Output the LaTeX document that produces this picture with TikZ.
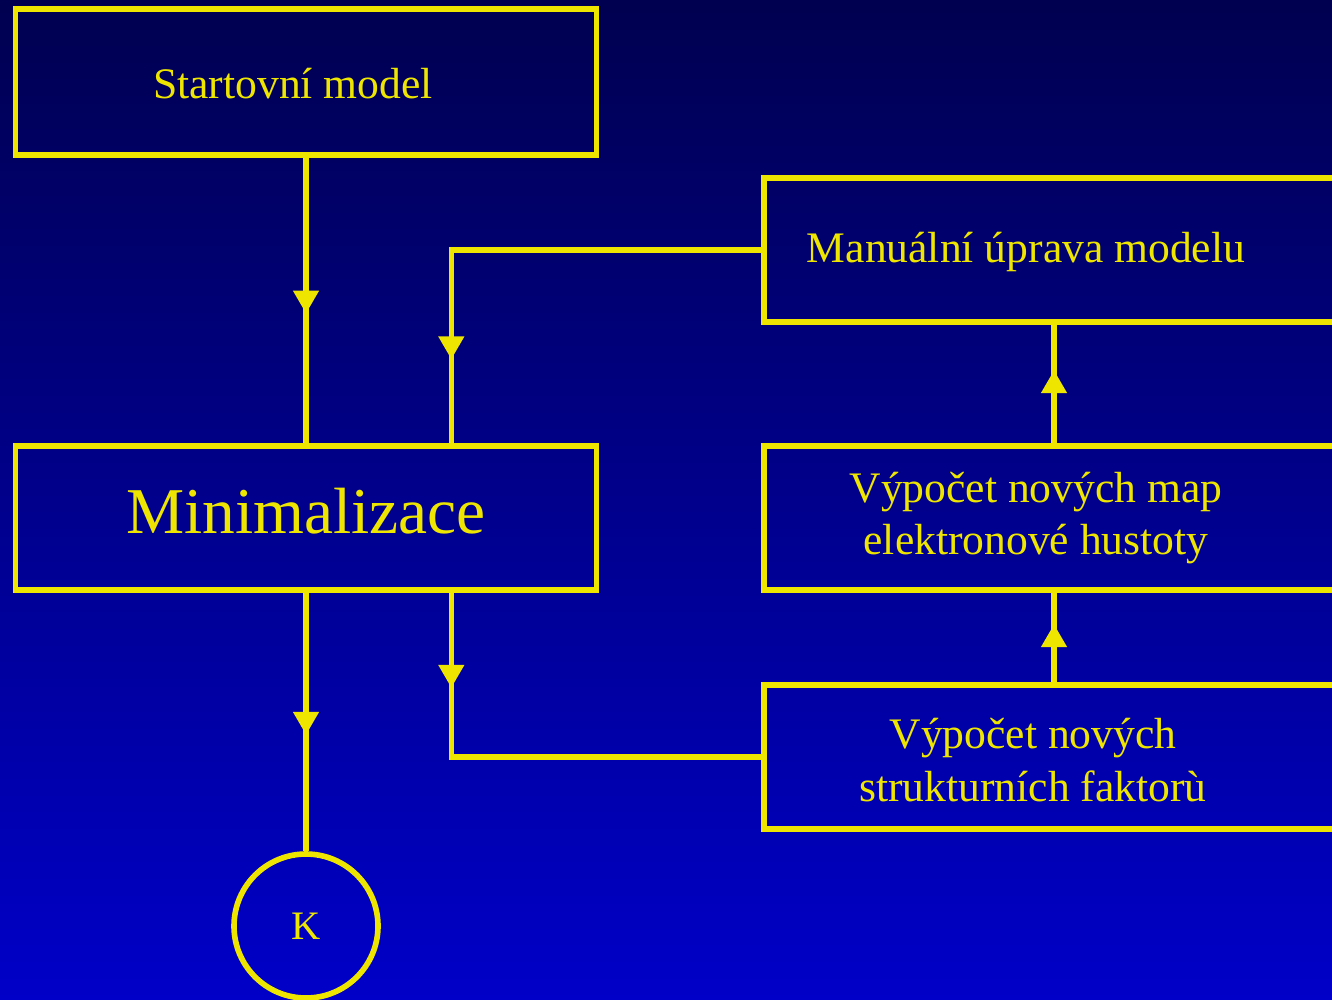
\documentclass[tikz,border=0pt]{standalone}
\usepackage{fontspec}
\setmainfont{Liberation Serif}
\usetikzlibrary{arrows.meta,decorations.markings}

\definecolor{bgtop}{RGB}{0,0,80}
\definecolor{bgbottom}{RGB}{0,0,200}
\definecolor{flowyellow}{RGB}{238,230,0}

\tikzset{
  box/.style={draw=flowyellow, line width=1.6pt, inner sep=0pt, text=flowyellow},
  boxtext/.style={text=flowyellow, font=\fontsize{12.4}{14.9}\selectfont, align=center, inner sep=0pt},
  link/.style={color=flowyellow, line width=1.5pt},
  flowarrow/.style={postaction={decorate},
    decoration={markings, mark=at position #1 with {\arrow{Triangle[length=6.5pt,width=7pt]}}}}
}

\begin{document}
\begin{tikzpicture}

  \useasboundingbox (0,0) rectangle (13.32,-9.99);
  \clip (0,0) rectangle (13.32,-9.99);
  \shade[top color=bgtop, bottom color=bgbottom] (0,0) rectangle (13.32,-9.99);

  % left column
  \node[box, minimum width=5.81cm, minimum height=1.455cm] (start) at (3.06,-0.82) {};
  \node[boxtext] (starttext) at (2.93,-0.84) {Startovní model};
  \node[box, minimum width=5.81cm, minimum height=1.44cm, text depth=0.14cm,
        font=\fontsize{18.6}{22}\selectfont] (minim) at (3.06,-5.18) {Minimalizace};
  \node[circle, draw=flowyellow, line width=1.6pt, minimum size=1.44cm, inner sep=0pt,
        text=flowyellow, font=\fontsize{11.5}{13}\selectfont] (konec) at (3.06,-9.26) {K};

  % right column (boxes run past the edge)
  \node[box, anchor=west, minimum width=5.9cm, minimum height=1.44cm] (manual) at (7.61,-2.50) {};
  \node[box, anchor=west, minimum width=5.9cm, minimum height=1.44cm] (map) at (7.61,-5.18) {};
  \node[box, anchor=west, minimum width=5.9cm, minimum height=1.44cm] (struct) at (7.61,-7.57) {};

  \node[boxtext] (manualtext) at (10.26,-2.52) {Manuální úprava modelu};
  \node[boxtext] (maptext) at (10.36,-5.18) {Výpočet nových map\\elektronové hustoty};
  \node[boxtext] (structtext) at (10.33,-7.60) {Výpočet nových\\strukturních faktorù};

  % connectors
  \draw[link, flowarrow=1.56cm] (start.south) -- (minim.north);
  \draw[link, flowarrow=4.19cm] (manual.west) -| ([xshift=-1.48cm]minim.north east);
  \draw[link, flowarrow=0.95cm] ([xshift=-1.48cm]minim.south east) |- (struct.west);
  \draw[link, flowarrow=1.42cm] (minim.south) -- (konec.north);
  \draw[link, flowarrow=0.58cm] ([xshift=2.93cm]struct.north west) -- ([xshift=2.93cm]map.south west);
  \draw[link, flowarrow=0.73cm] ([xshift=2.93cm]map.north west) -- ([xshift=2.93cm]manual.south west);

\end{tikzpicture}
\end{document}
